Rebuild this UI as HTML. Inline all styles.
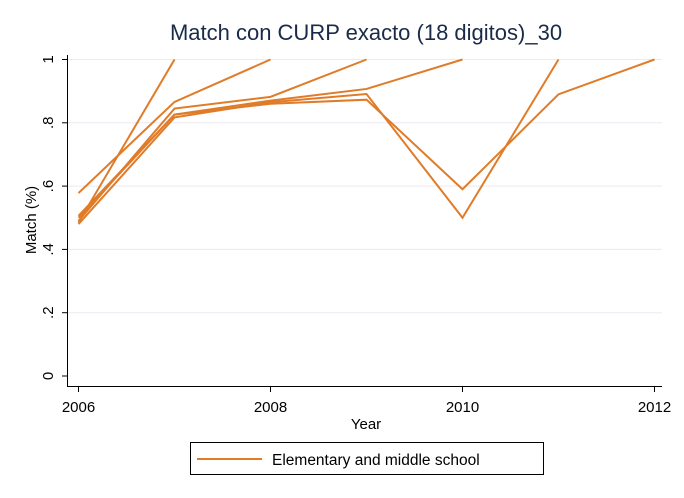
<!DOCTYPE html>
<html><head><meta charset="utf-8"><style>
body{margin:0;background:#fff;}
svg{display:block;font-family:"Liberation Sans",Arial,sans-serif;}
</style></head><body>
<svg id="chart" width="684" height="498" viewBox="0 0 684 498">
<rect width="684" height="498" fill="#fff"/>
<text x="366" y="40" text-anchor="middle" font-size="22" fill="#1a2a48">Match con CURP exacto (18 digitos)_30</text>
<g id="grid"></g><g id="axes"></g><g id="series"></g>
<text x="366" y="429" text-anchor="middle" font-size="15" fill="#000">Year</text>
<text transform="translate(36,220) rotate(-90)" text-anchor="middle" font-size="15" fill="#000">Match (%)</text>
<g>
<rect x="190.5" y="442.5" width="353" height="32" fill="#fff" stroke="#000" stroke-width="1"/>
<line x1="197" y1="459" x2="262" y2="459" stroke="#e07b28" stroke-width="2"/>
<text x="272" y="465" font-size="15.5" fill="#000">Elementary and middle school</text>
</g>
</svg>
<script>
const years=[2006,2007,2008,2009,2010,2011,2012];
const yTicks=[0,0.2,0.4,0.6,0.8,1];
const yTickLabels=["0",".2",".4",".6",".8","1"];
const xTicks=[2006,2008,2010,2012];
const s1=[0.485,1,null,null,null,null,null];
const s2=[0.578,0.866,1,null,null,null,null];
const s3=[0.49,0.845,0.882,1,null,null,null];
const s4=[0.506,0.826,0.87,0.907,1,null,null];
const s5=[0.48,0.817,0.865,0.891,0.50,1,null];
const s6=[0.50,0.826,0.86,0.873,0.59,0.89,1];
const seriesList=[s1,s2,s3,s4,s5,s6];
const NS="http://www.w3.org/2000/svg";
function X(v){return 78.5+(v-2006)*96;}
function Y(v){return 376-v*316.5;}
function mk(t,a,p){const e=document.createElementNS(NS,t);for(const k in a)e.setAttribute(k,a[k]);p.appendChild(e);return e;}
const grid=document.getElementById('grid'),axes=document.getElementById('axes'),ser=document.getElementById('series');
yTicks.forEach((v,i)=>{
  if(v>0){const g=mk('line',{x1:68,x2:662,y1:Y(v),y2:Y(v),stroke:'#eaeaf2','stroke-width':1},grid);
  
  }
  const t=mk('line',{x1:62,x2:68,y1:Y(v),y2:Y(v),stroke:'#000','stroke-width':1},axes);
  
  
  const l=mk('text',{transform:`translate(53,${Y(v)}) rotate(-90)`,'text-anchor':'middle','font-size':15,fill:'#000'},axes);
  l.textContent=yTickLabels[i];
  
  
});
xTicks.forEach(v=>{
  const t=mk('line',{x1:X(v),x2:X(v),y1:386,y2:392,stroke:'#000','stroke-width':1},axes);
  
  
  const l=mk('text',{x:X(v),y:412,'text-anchor':'middle','font-size':15,fill:'#000'},axes);
  l.textContent=v;
  
  
});
const ya=mk('line',{x1:67.5,x2:67.5,y1:55,y2:387,stroke:'#000','stroke-width':1},axes);


const xa=mk('line',{x1:67,x2:662,y1:386.5,y2:386.5,stroke:'#000','stroke-width':1},axes);


seriesList.forEach((s,i)=>{
  const pts=[];s.forEach((v,j)=>{if(v!==null)pts.push(X(years[j])+','+Y(v));});
  const p=mk('polyline',{points:pts.join(' '),fill:'none',stroke:'#e07b28','stroke-width':2,'stroke-linejoin':'miter'},ser);
  
  
});
</script>
</body></html>
